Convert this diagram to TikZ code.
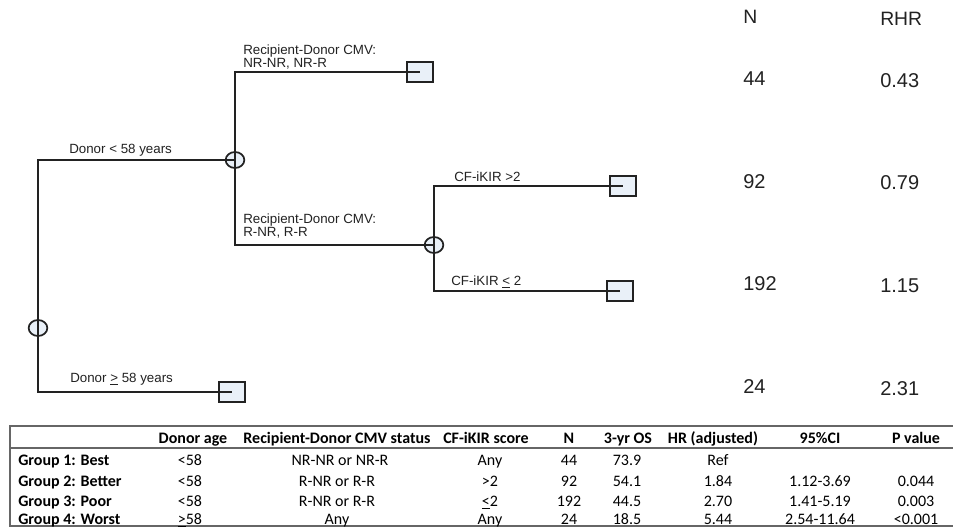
\documentclass[tikz,border=0pt]{standalone}
\usepackage{fontspec}
\setmainfont{Liberation Sans}
\newfontfamily\tabfont{Carlito}
\usetikzlibrary{shapes.geometric}
\definecolor{leaf}{HTML}{E9F0F8}
\definecolor{ink}{HTML}{222222}
\definecolor{rule}{HTML}{666666}
\begin{document}
\begin{tikzpicture}[x=0.75pt,y=-0.75pt,
  split/.style={ellipse,draw=ink,line width=1.3pt,fill=leaf,minimum width=14pt,minimum height=12pt,inner sep=0pt},
  leafbox/.style={rectangle,draw=ink,line width=1.3pt,fill=leaf,minimum width=19.5pt,minimum height=15.5pt,inner sep=0pt},
  branch/.style={draw=ink,line width=1.3pt},
  lbl/.style={anchor=base west,font=\fontsize{10}{12}\selectfont,inner sep=0pt,text=ink},
  big/.style={anchor=base west,font=\fontsize{15}{17}\selectfont,inner sep=0pt,text=ink},
  bighead/.style={anchor=base west,font=\fontsize{14.5}{16}\selectfont,inner sep=0pt,text=ink},
  th/.style={anchor=base,font=\tabfont\bfseries\fontsize{12}{14}\selectfont,inner sep=0pt},
  td/.style={anchor=base,font=\tabfont\fontsize{12}{14}\selectfont,inner sep=0pt},
  tg/.style={anchor=base west,font=\tabfont\bfseries\fontsize{12}{14}\selectfont,inner sep=0pt},
  tabrule/.style={draw=rule,line width=0.9pt}
  ]
\fill[white] (0,0) rectangle (953,529);
\useasboundingbox (0,0) rectangle (953,529);

% decision nodes
\node[split] (c0) at (38,328) {};
\node[split] (c1) at (235,160) {};
\node[split] (c2) at (434,245) {};
% leaves
\node[leafbox] (l1) at (420,72) {};
\node[leafbox] (l2) at (623,186) {};
\node[leafbox] (l3) at (620,291) {};
\node[leafbox] (l4) at (232,392) {};

% branches
\draw[branch] (c0.center) |- (c1.center);
\draw[branch] (c0.center) |- (l4.center);
\draw[branch] (c1.center) |- (l1.center);
\draw[branch] (c1.center) |- (c2.center);
\draw[branch] (c2.center) |- (l2.center);
\draw[branch] (c2.center) |- (l3.center);

% branch labels
\node[lbl] (t1a) at (243,54) {Recipient-Donor CMV:};
\node[lbl] (t1b) at (243,67) {NR-NR, NR-R};
\node[lbl] (t2) at (69,153) {Donor < 58 years};
\node[lbl] (t3) at (454,181) {CF-iKIR >2};
\node[lbl] (t4a) at (243,223) {Recipient-Donor CMV:};
\node[lbl] (t4b) at (243,236) {R-NR, R-R};
\node[lbl] (t5) at (451,285) {CF-iKIR \underline{<} 2};
\node[lbl] (t6) at (70,382) {Donor \underline{>} 58 years};

% right columns
\node[bighead] (hN) at (743,23) {N};
\node[bighead] (hR) at (880,25) {RHR};
\node[big] (n1) at (743,85) {44};
\node[big] (r1) at (880,87) {0.43};
\node[big] (n2) at (743,188) {92};
\node[big] (r2) at (880,189) {0.79};
\node[big] (n3) at (743,290) {192};
\node[big] (r3) at (880,292) {1.15};
\node[big] (n4) at (743,393) {24};
\node[big] (r4) at (880,395) {2.31};

% table
\draw[tabrule] (953,426) -- (10,426) -- (10,526) -- (953,526);
\draw[tabrule] (10,448) -- (953,448);

\node[th] (h1) at (193,443) {Donor age};
\node[th] (h2) at (337,443) {Recipient-Donor CMV status};
\node[th] (h3) at (486,443) {CF-iKIR score};
\node[th] (h4) at (569,443) {N};
\node[th] (h5) at (628,443) {3-yr OS};
\node[th] (h6) at (713,443) {HR (adjusted)};
\node[th] (h7) at (820,443) {95\%CI};
\node[th] (h8) at (916,443) {P value};

\node[tg] (g1) at (18,465) {Group 1: Best};
\node[tg] (g2) at (18,486) {Group 2: Better};
\node[tg] (g3) at (18,506) {Group 3: Poor};
\node[tg] (g4) at (18,524) {Group 4: Worst};

\node[td] at (190,465) {<58};
\node[td] at (340,465) {NR-NR or NR-R};
\node[td] at (490,465) {Any};
\node[td] at (569,465) {44};
\node[td] at (627,465) {73.9};
\node[td] at (718,465) {Ref};

\node[td] at (190,486) {<58};
\node[td] at (337,486) {R-NR or R-R};
\node[td] at (490,486) {>2};
\node[td] at (569,486) {92};
\node[td] at (627,486) {54.1};
\node[td] at (718,486) {1.84};
\node[td] at (820,486) {1.12-3.69};
\node[td] at (916,486) {0.044};

\node[td] at (190,506) {<58};
\node[td] at (337,506) {R-NR or R-R};
\node[td] at (490,506) {\underline{<}2};
\node[td] at (569,506) {192};
\node[td] at (627,506) {44.5};
\node[td] at (718,506) {2.70};
\node[td] at (820,506) {1.41-5.19};
\node[td] at (916,506) {0.003};

\node[td] at (190,524) {\underline{>}58};
\node[td] at (337,524) {Any};
\node[td] at (490,524) {Any};
\node[td] at (569,524) {24};
\node[td] at (627,524) {18.5};
\node[td] at (718,524) {5.44};
\node[td] at (820,524) {2.54-11.64};
\node[td] at (916,524) {<0.001};
\end{tikzpicture}
\end{document}
